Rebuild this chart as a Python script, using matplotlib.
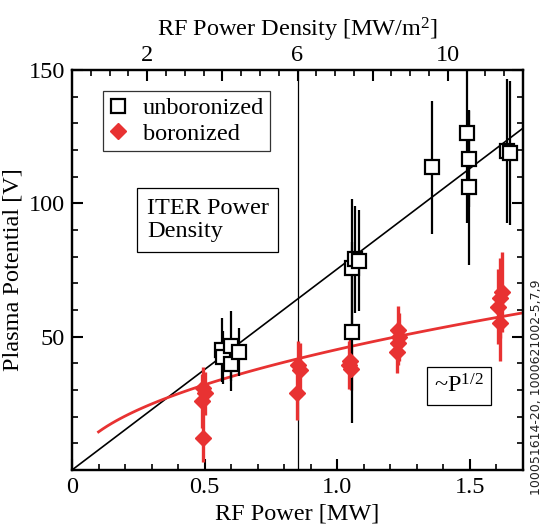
import numpy as np
import matplotlib
matplotlib.use('Agg')
import matplotlib.pyplot as plt
from matplotlib.ticker import MultipleLocator

plt.rcParams['font.family'] = ['Liberation Serif', 'DejaVu Serif']
plt.rcParams['mathtext.fontset'] = 'custom'
plt.rcParams['mathtext.rm'] = 'Liberation Serif'
plt.rcParams['mathtext.it'] = 'Liberation Serif:italic'

# Datos sin boronizar (potencia MW, potencial V, error V)
unb_p = [0.565, 0.570, 0.600, 0.598, 0.631,
         1.057, 1.067, 1.083, 1.057,
         1.356, 1.488, 1.498, 1.498, 1.638, 1.651]
unb_v = [45.0, 42.3, 46.5, 39.6, 44.4,
         75.6, 79.0, 78.5, 51.6,
         113.5, 126.5, 116.5, 106.0, 119.7, 118.7]
unb_err = [12, 10, 13, 10, 9,
           26, 20, 19, 34,
           25, 34, 18, 29, 27, 27]

# Datos boronizados
bor_p = [0.495, 0.501, 0.489, 0.493,
         0.853, 0.860, 0.847,
         1.048, 1.045, 1.050,
         1.230, 1.232, 1.230, 1.224,
         1.620, 1.613, 1.607, 1.612]
bor_v = [30.6, 28.7, 25.9, 12.1,
         39.4, 37.5, 28.7,
         41.0, 39.5, 38.0,
         52.5, 50.0, 47.5, 44.4,
         66.9, 64.4, 61.3, 55.0]
bor_err = [8, 8, 10, 9,
           9, 10, 10,
           8, 9, 8,
           9, 9, 8, 8,
           15, 15, 14, 14]

# Ajustes: lineal (sin boronizar) y ~P^1/2 (boronizado)
PENDIENTE = 75.4
COEF_RAIZ = 45.2
P_ITER = 0.85
DENS_POR_MW = 6 / P_ITER
ROJO = '#e83232'

fig = plt.figure(figsize=(5.49, 5.27), dpi=100)
ax = fig.add_axes([72 / 549, 57 / 527, 451 / 549, 400 / 527])

p_lin = np.array([0, 1.7])
ax.plot(p_lin, PENDIENTE * p_lin, color='black', lw=1.2, zorder=2)
p_raiz = np.linspace(0.1, 1.7, 100)
ax.plot(p_raiz, COEF_RAIZ * np.sqrt(p_raiz), color=ROJO, lw=2, zorder=2)
ax.axvline(P_ITER, color='black', lw=0.9, zorder=1)

ax.errorbar(bor_p, bor_v, yerr=bor_err, fmt='none', ecolor=ROJO, elinewidth=2.4,
            capsize=0, zorder=3)
ax.plot(bor_p, bor_v, 'D', color=ROJO, ms=8.5, mec=ROJO, zorder=4, label='boronized')
ax.errorbar(unb_p, unb_v, yerr=unb_err, fmt='none', ecolor='black', elinewidth=1.6,
            capsize=0, zorder=3)
ax.plot(unb_p, unb_v, 's', mfc='white', mec='black', mew=1.6, ms=9.5, zorder=5,
        label='unboronized')

ax.set_xlim(0, 1.7)
ax.set_ylim(0, 150)
ax.xaxis.set_major_locator(MultipleLocator(0.5))
ax.xaxis.set_minor_locator(MultipleLocator(0.1))
ax.yaxis.set_major_locator(MultipleLocator(50))
ax.yaxis.set_minor_locator(MultipleLocator(10))
ax.set_xticks([0, 0.5, 1.0, 1.5])
ax.set_xticklabels(['0', '0.5', '1.0', '1.5'])
ax.set_yticks([50, 100, 150])
ax.tick_params(which='both', direction='in', right=True, top=False, labelsize=17.5)
ax.tick_params(which='major', length=8, width=1.5, pad=5)
ax.tick_params(which='minor', length=4, width=1.2)
for s in ax.spines.values():
    s.set_linewidth(1.6)
ax.set_xlabel('RF Power [MW]', fontsize=17.5, labelpad=4)
ax.set_ylabel('Plasma Potential [V]', fontsize=17.5, labelpad=4)

ax2 = ax.twiny()
ax2.set_xlim(0, 1.7 * DENS_POR_MW)
ax2.set_xticks([2, 4, 6, 8, 10])
ax2.set_xticklabels(['2', '', '6', '', '10'])
ax2.xaxis.set_minor_locator(MultipleLocator(0.5))
ax2.tick_params(which='both', direction='in', labelsize=17.5)
ax2.tick_params(which='major', length=8, width=1.5, pad=3)
ax2.tick_params(which='minor', length=4, width=1.2)
ax2.set_xlabel('RF Power Density [MW/m$^{2}$]', fontsize=17.5, labelpad=6)
for s in ax2.spines.values():
    s.set_linewidth(1.6)

h, l = ax.get_legend_handles_labels()
leg = ax.legend(h[::-1], l[::-1], loc='upper left', bbox_to_anchor=(0.068, 0.947),
                fontsize=17.5, frameon=True, fancybox=False, edgecolor='black',
                handlelength=0.8, handletextpad=0.6, borderpad=0.25, labelspacing=0.15,
                borderaxespad=0)
leg.get_frame().set_linewidth(0.9)

ax.text(0.166, 0.625, 'ITER Power\nDensity', transform=ax.transAxes, fontsize=17.5,
        va='center', ha='left', linespacing=1.1,
        bbox=dict(boxstyle='square,pad=0.4', fc='white', ec='black', lw=0.9))
ax.text(0.803, 0.21, r'~P$^{\mathrm{1/2}}$', transform=ax.transAxes, fontsize=17.5,
        va='center', ha='left',
        bbox=dict(boxstyle='square,pad=0.3', fc='white', ec='black', lw=0.9))

fig.text(0.978, 0.265, '100051614-20, 1000621002-5,7,9', rotation=90, fontsize=9,
         family='DejaVu Sans', ha='center', va='center', color='#222222')

fig.savefig('out.png', dpi=100)
